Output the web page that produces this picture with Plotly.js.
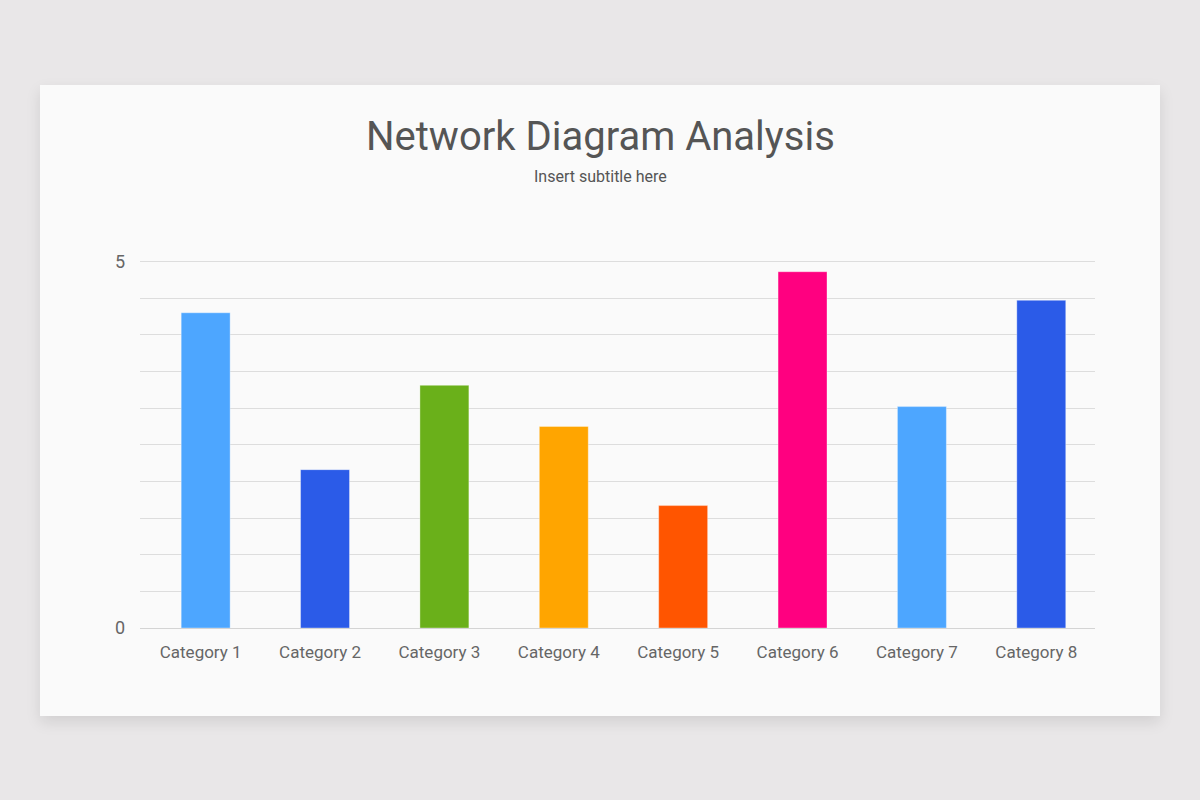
<!DOCTYPE html>
<html>
<head>
<meta charset="utf-8">
<script src="https://cdn.plot.ly/plotly-3.0.1.min.js"></script>
<style>
  html, body { margin: 0; padding: 0; width: 1200px; height: 800px; background: #e9e7e8; overflow: hidden; }
  #card { position: absolute; left: 40px; top: 85px; width: 1120px; height: 631px; background: #fafafa;
          box-shadow: 0 6px 14px rgba(0,0,0,0.10); }
  #chart { width: 1120px; height: 631px; }
</style>
</head>
<body>
<div id="card"><div id="chart"></div></div>
<script>
const categories = ["Category 1", "Category 2", "Category 3", "Category 4", "Category 5", "Category 6", "Category 7", "Category 8"];
const values = [4.30, 2.16, 3.31, 2.75, 1.67, 4.86, 3.02, 4.47];
const barColors = ["#4da6ff", "#2b5be8", "#6ab01a", "#ffa500", "#ff5500", "#ff0080", "#4da6ff", "#2b5be8"];
const yTickVals = [0, 5];
const yTickText = ["0", "5"];
const titleText = "Network Diagram Analysis";
const subtitleText = "Insert subtitle here";

const plotTop = 175, plotBottom = 88, cardW = 1120, cardH = 631, plotL = 100, plotR = 65;
const plotH = cardH - plotTop - plotBottom;
const plotW = cardW - plotL - plotR;
const centerX = (cardW / 2 - plotL) / plotW;

const trace = {
  type: "bar",
  x: categories,
  y: values,
  marker: { color: barColors, line: { color: "rgba(255,255,255,0.35)", width: 1 } },
  hoverinfo: "x+y"
};

const layout = {
  width: cardW,
  height: cardH,
  paper_bgcolor: "rgba(0,0,0,0)",
  plot_bgcolor: "rgba(0,0,0,0)",
  margin: { l: plotL, r: plotR, t: plotTop, b: plotBottom },
  font: { family: "Roboto, sans-serif", color: "#666666" },
  annotations: [
    { text: titleText, xref: "paper", yref: "paper", x: centerX, y: (cardH - plotBottom - 52) / plotH,
      xanchor: "center", yanchor: "middle", showarrow: false,
      font: { family: "Roboto, sans-serif", size: 40, color: "#555555" } },
    { text: subtitleText, xref: "paper", yref: "paper", x: centerX, y: (cardH - plotBottom - 92) / plotH,
      xanchor: "center", yanchor: "middle", showarrow: false,
      font: { family: "Roboto, sans-serif", size: 16, color: "#555555" } }
  ],
  bargap: 0.59,
  showlegend: false,
  xaxis: {
    type: "category",
    range: [-0.55, 7.45],
    showgrid: false,
    zeroline: false,
    showline: false,
    ticks: "",
    tickfont: { size: 17, color: "#666666" },
    ticklabelstandoff: 12,
    ticklabelshift: -5
  },
  yaxis: {
    range: [0, 5.02],
    tickmode: "array",
    tickvals: yTickVals,
    ticktext: yTickText,
    showgrid: true,
    gridcolor: "#dddddd",
    gridwidth: 1,
    minor: { dtick: 0.5, showgrid: true, gridcolor: "#dddddd", gridwidth: 1 },
    zeroline: true,
    zerolinecolor: "#d4d4d4",
    zerolinewidth: 1,
    showline: false,
    ticks: "",
    tickfont: { size: 18, color: "#666666" },
    ticklabelstandoff: 14
  }
};

Plotly.newPlot("chart", [trace], layout, { displayModeBar: false, staticPlot: true });
</script>
</body>
</html>
